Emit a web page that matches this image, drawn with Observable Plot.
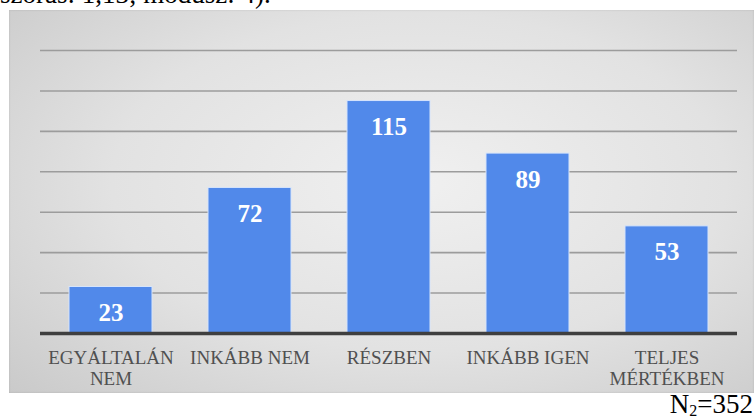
<!DOCTYPE html>
<html>
<head>
<meta charset="utf-8">
<script src="https://cdn.jsdelivr.net/npm/d3@7"></script>
<script src="https://cdn.jsdelivr.net/npm/@observablehq/plot@0.6"></script>
<style>
  html, body { margin: 0; padding: 0; background: #fff; }
  #wrap { position: relative; width: 755px; height: 419px; overflow: hidden; font-family: "Liberation Serif", "Times New Roman", serif; }
  #toptext { position: absolute; left: 0; top: -19px; font-size: 27px; line-height: 27px; color: #000; white-space: nowrap; }
  #panel { position: absolute; left: 9px; top: 10px; width: 745px; height: 383px;
    background: radial-gradient(ellipse 75% 80% at 55% 45%, #f0f0f0 0%, #e2e2e2 55%, #cacaca 100%);
    box-shadow: inset 0 0 2px rgba(0,0,0,0.15); }
  #panel svg, #panel svg text { font-family: "Liberation Serif", "Times New Roman", serif !important; }
  #note { position: absolute; right: 2px; top: 391px; font-size: 27px; line-height: 26px; color: #000; }
  #note sub { font-size: 16px; vertical-align: -3px; line-height: 0; }
</style>
</head>
<body>
<div id="wrap">
  <div id="toptext">szórás: 1,13; módusz: 4).</div>
  <div id="panel"></div>
  <div id="note">N<sub>2</sub>=352</div>
</div>
<script>
const categories = ["EGYÁLTALÁN\nNEM", "INKÁBB NEM", "RÉSZBEN", "INKÁBB IGEN", "TELJES\nMÉRTÉKBEN"];
const values = [23, 72, 115, 89, 53];
const gridTicks = [20, 40, 60, 80, 100, 120, 140];

const data = categories.map((c, i) => ({cat: c, value: values[i]}));

const chart = Plot.plot({
  width: 745,
  height: 383,
  marginLeft: 31,
  marginRight: 17,
  marginTop: 40,
  marginBottom: 60,
  style: {background: "transparent", overflow: "visible"},
  x: {domain: categories, paddingInner: 0.4, paddingOuter: 0.2, label: null},
  y: {domain: [0, 140], label: null, axis: null},
  marks: [
    Plot.ruleY(gridTicks, {stroke: "#9c9c9c", strokeWidth: 1.6}),
    Plot.barY(data, {x: "cat", y: "value", fill: "#5189ea", stroke: "#d6e4fb", strokeWidth: 1}),
    Plot.ruleY([0], {stroke: "#3f3f3f", strokeWidth: 3.5}),
    Plot.text(data, {x: "cat", y: "value", text: d => String(d.value), dy: 26, fill: "#ffffff",
      fontWeight: "bold", fontSize: 25}),
    Plot.axisX({tickSize: 0, tickPadding: 16, fontSize: 19, color: "#505050", lineHeight: 1.08, label: null})
  ]
});
chart.querySelectorAll("text, tspan").forEach(t => t.style.fontFamily = "'Liberation Serif', 'Times New Roman', serif");
document.getElementById("panel").appendChild(chart);
</script>
</body>
</html>
